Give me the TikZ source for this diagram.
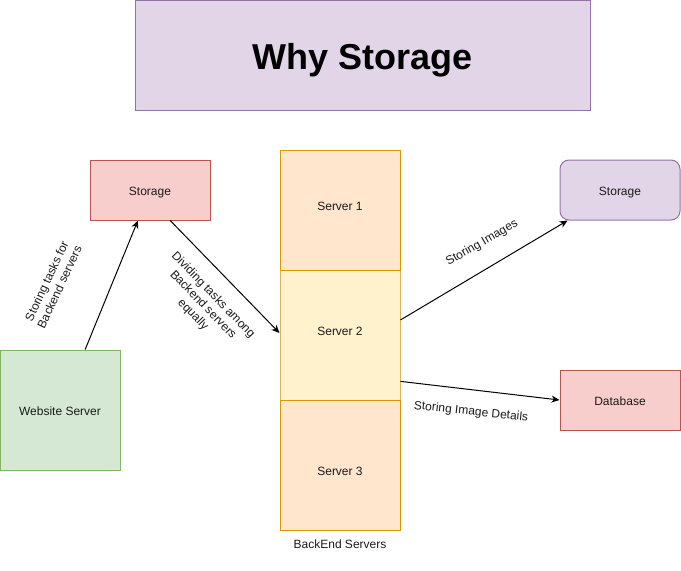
\documentclass[tikz,border=0pt]{standalone}
\usepackage{fontspec}
\setmainfont{Liberation Sans}
\usetikzlibrary{arrows.meta,calc}
\definecolor{purpF}{HTML}{E1D5E7}
\definecolor{purpD}{HTML}{9673A6}
\definecolor{redF}{HTML}{F8CECC}
\definecolor{redD}{HTML}{B85450}
\definecolor{grnF}{HTML}{D5E8D4}
\definecolor{grnD}{HTML}{82B366}
\definecolor{orgF}{HTML}{FFE6CC}
\definecolor{orgD}{HTML}{D79B00}
\definecolor{yelF}{HTML}{FFF2CC}
\definecolor{yelD}{HTML}{D6B656}
\definecolor{txt}{HTML}{1A1A1A}
\begin{document}
\begin{tikzpicture}[x=1pt,y=-1pt,
  box/.style={draw, line width=1pt, inner sep=0pt, align=center, text=txt,
    font=\fontsize{12}{14}\selectfont, text height=10.6pt, text depth=0pt},
  lbl/.style={inner sep=0pt, align=center, text=txt, font=\fontsize{12}{14}\selectfont},
  conn/.style={line width=1pt, -{Stealth[length=8pt,width=7pt,inset=2.5pt]}}
]
\useasboundingbox (0,0) rectangle (681,571);
% title
\node[box, fill=purpF, draw=purpD, minimum width=455pt, minimum height=110pt,
  font=\fontsize{36}{40}\selectfont\bfseries, text=black, text height=28.8pt, text depth=0pt] (title) at (362.5,55) {Why Storage};
% left storage
\node[box, fill=redF, draw=redD, minimum width=120pt, minimum height=60pt] (lstore) at (150,190) {Storage};
% website server
\node[box, fill=grnF, draw=grnD, minimum width=120pt, minimum height=120pt] (web) at (60,410) {Website Server};
% servers
\node[box, fill=yelF, draw=yelD, minimum width=120pt, minimum height=130pt, text height=8.6pt, text depth=8pt] (s2) at (340,335) {Server 2};
\node[box, fill=orgF, draw=orgD, minimum width=120pt, minimum height=120pt, text height=8.6pt, text depth=7pt] (s1) at (340,210) {Server 1};
\node[box, fill=orgF, draw=orgD, minimum width=120pt, minimum height=130pt, text height=21.6pt, text depth=0pt] (s3) at (340,465) {Server 3};
\node[lbl] (be) at (340,544) {BackEnd Servers};
% right storage
\node[box, fill=purpF, draw=purpD, rounded corners=9pt, minimum width=120pt, minimum height=60pt] (rstore) at (620,190) {Storage};
% database
\node[box, fill=redF, draw=redD, minimum width=120pt, minimum height=60pt] (db) at (620,400) {Database};
% connectors
\draw[conn] ($(web.north west)!0.708!(web.north east)$) -- ($(lstore.south west)!0.4!(lstore.south east)$);
\draw[conn] ($(lstore.south west)!0.667!(lstore.south east)$) -- ($(s2.north west)!0.485!(s2.south west)$);
\draw[conn] ($(s2.north east)!0.385!(s2.south east)$) -- ($(rstore.south west)!0.067!(rstore.south east)$);
\draw[conn] ($(s2.north east)!0.854!(s2.south east)$) -- (db.west);
% labels
\node[lbl, rotate=65] (l1) at (53,284) {Storing tasks for\\Backend servers};
\node[lbl, rotate=-46] (l2) at (203,305) {Dividing tasks among\\Backend servers\\equally};
\node[lbl, rotate=30] (l3) at (482,243) {Storing Images};
\node[lbl, rotate=-6] (l4) at (471,412) {Storing Image Details};
\end{tikzpicture}
\end{document}
